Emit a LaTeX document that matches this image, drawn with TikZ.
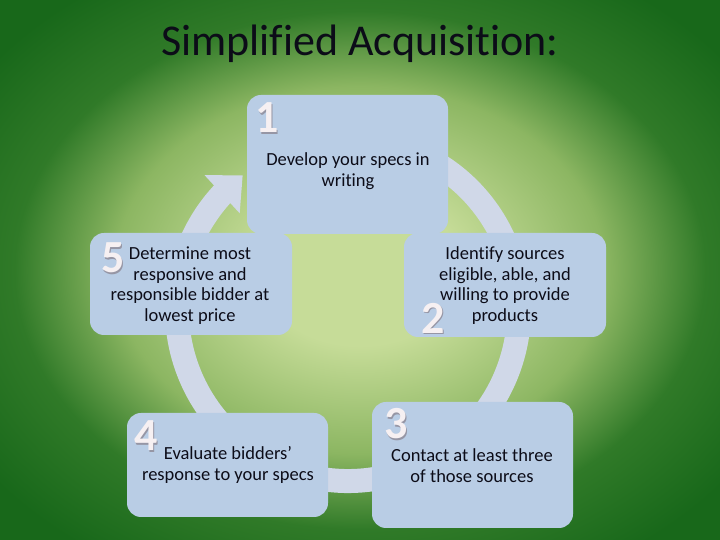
\documentclass[tikz,border=0pt]{standalone}
\usepackage{fontspec}
\setmainfont{Carlito}[Ligatures=NoCommon]
\usetikzlibrary{arrows.meta,bending}
\definecolor{bgdark}{RGB}{24,104,26}
\definecolor{bglight}{RGB}{198,220,152}
\definecolor{bgmid}{RGB}{140,182,98}
\definecolor{bgedge}{RGB}{48,122,40}
\definecolor{boxfill}{RGB}{185,205,229}
\definecolor{ringcol}{RGB}{208,216,232}
\definecolor{numcol}{RGB}{246,240,242}
\definecolor{numshadow}{RGB}{150,150,165}
\definecolor{txt}{RGB}{12,12,24}
\pgfdeclareradialshading{bgshade}{\pgfpoint{0bp}{0bp}}{%
  color(0bp)=(bglight); color(7bp)=(bglight); color(17bp)=(bgmid);
  color(24bp)=(bgedge); color(32bp)=(bgdark); color(50bp)=(bgdark)}
\begin{document}
\begin{tikzpicture}[x=1pt,y=1pt,
  card/.style={draw=none, fill=boxfill, rounded corners=14pt, inner sep=0pt, outer sep=0pt},
  body/.style={font=\fontsize{18.5}{20.5}\selectfont, text=txt, align=center, inner sep=0pt},
  num/.style={font=\fontsize{46}{46}\selectfont\bfseries, text=numcol, inner sep=0pt},
  numsh/.style={font=\fontsize{46}{46}\selectfont\bfseries, text=numshadow, inner sep=0pt},
  ring/.style={line width=24pt, draw=ringcol, -{Triangle[width=50pt,length=28pt]}}
]
\useasboundingbox (0,0) rectangle (720,540);
\shade[shading=bgshade] (0,0) rectangle (720,540);

% title
\node[font=\fontsize{44}{44}\selectfont, text=txt] (title) at (360,496) {Simplified Acquisition:};

% cycle ring
\coordinate (c) at (348,230);
\draw[ring] (c) ++(70:171) arc[start angle=70, end angle=-232, radius=171];

% boxes
\node[card, minimum width=201pt, minimum height=139pt] (b1) at (347.5,375.5) {};
\node[card, minimum width=202pt, minimum height=102pt] (b5) at (191,256) {};
\node[card, minimum width=202pt, minimum height=104pt] (b2) at (505,255) {};
\node[card, minimum width=201pt, minimum height=104pt] (b4) at (227.5,75) {};
\node[card, minimum width=201pt, minimum height=126pt] (b3) at (472.5,75) {};

% texts
\node[body] (t1) at (348,369) {Develop your specs in\\writing};
\node[body] (t5) at (190,254.5) {Determine most\\responsive and\\responsible bidder at\\lowest price};
\node[body] (t2) at (505,254.5) {Identify sources\\eligible, able, and\\willing to provide\\products};
\node[body] (t4) at (228,75) {Evaluate bidders’\\response to your specs};
\node[body] (t3) at (472,74.5) {Contact at least three\\of those sources};

% numbers
\foreach \n/\x/\y in {1/267/422, 5/113/282, 2/433/222, 4/146/104, 3/396/116}{
  \node[numsh] (s\n) at (\x+1.5,\y-1.5) {\n};
  \node[num] (n\n) at (\x,\y) {\n};
}
\end{tikzpicture}
\end{document}
